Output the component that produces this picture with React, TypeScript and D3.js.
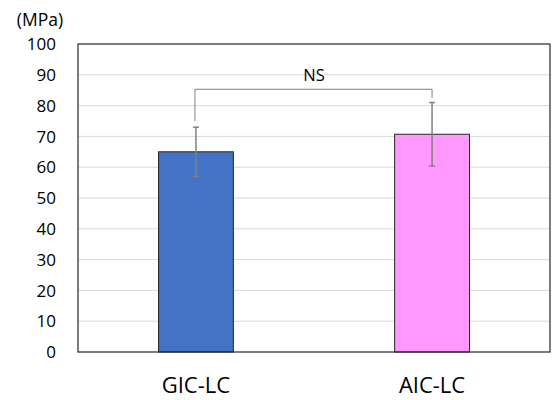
import { scaleBand, scaleLinear } from "d3";

const categories = ["GIC-LC", "AIC-LC"];
const means = [65, 70.7];
const errors = [8, 10.3];
const barColors = ["#4472C4", "#FF99FF"];
const yTicks = [0, 10, 20, 30, 40, 50, 60, 70, 80, 90, 100];
const unitLabel = "(MPa)";
// significance bracket: [left end, right end, top level]
const bracketEnds = [75, 82.5];
const bracketTop = 85.3;
const bracketLabel = "NS";

const width = 552;
const height = 400;
const margin = { top: 44, right: 2, bottom: 48, left: 78 };
const font = "'Open Sans', 'Noto Sans', sans-serif";

export default function App() {
  const x = scaleBand<string>()
    .domain(categories)
    .range([margin.left, width - margin.right])
    .paddingInner(0.683)
    .paddingOuter(0.341);
  const y = scaleLinear()
    .domain([0, 100])
    .range([height - margin.bottom, margin.top]);

  const cx = (c: string) => (x(c) ?? 0) + x.bandwidth() / 2;
  const x0 = margin.left;
  const x1 = width - margin.right;
  const capW = 3;

  const bl = cx(categories[0]);
  const br = cx(categories[1]);

  return (
    <svg
      width={width}
      height={height}
      style={{ position: "absolute", left: 0, top: 0, fontFamily: font }}
    >
      <rect width={width} height={height} fill="#fff" />
      {yTicks.slice(1, -1).map((t) => (
        <line key={t} x1={x0} x2={x1} y1={y(t)} y2={y(t)} stroke="#d9d9d9" strokeWidth={1} />
      ))}
      {yTicks.map((t) => (
        <text
          key={`l${t}`}
          x={56}
          y={y(t)}
          dy="0.36em"
          textAnchor="end"
          fontSize={17}
          fill="#000"
        >
          {t}
        </text>
      ))}
      <text x={40} y={26} textAnchor="middle" fontSize={17.5} fill="#000">
        {unitLabel}
      </text>

      {categories.map((c, i) => (
        <rect
          key={c}
          x={x(c)}
          y={y(means[i])}
          width={x.bandwidth()}
          height={y(0) - y(means[i])}
          fill={barColors[i]}
          stroke="#262626"
          strokeWidth={1}
        />
      ))}

      {categories.map((c, i) => (
        <g key={`e${c}`} stroke="#808080" strokeWidth={1.5}>
          <line x1={cx(c)} x2={cx(c)} y1={y(means[i] + errors[i])} y2={y(means[i] - errors[i])} />
          <line x1={cx(c) - capW} x2={cx(c) + capW} y1={y(means[i] + errors[i])} y2={y(means[i] + errors[i])} />
          <line x1={cx(c) - capW} x2={cx(c) + capW} y1={y(means[i] - errors[i])} y2={y(means[i] - errors[i])} />
        </g>
      ))}

      <path
        d={`M${bl - 1},${y(bracketEnds[0])}V${y(bracketTop)}H${br}V${y(bracketEnds[1])}`}
        fill="none"
        stroke="#808080"
        strokeWidth={1}
      />
      <text x={(bl + br) / 2} y={81} textAnchor="middle" fontSize={16.5} fill="#000">
        {bracketLabel}
      </text>

      <rect
        x={x0}
        y={y(100)}
        width={x1 - x0}
        height={y(0) - y(100)}
        fill="none"
        stroke="#262626"
        strokeWidth={1.2}
      />

      {categories.map((c) => (
        <text key={`c${c}`} x={cx(c)} y={393} textAnchor="middle" fontSize={22} fill="#000">
          {c}
        </text>
      ))}
    </svg>
  );
}
